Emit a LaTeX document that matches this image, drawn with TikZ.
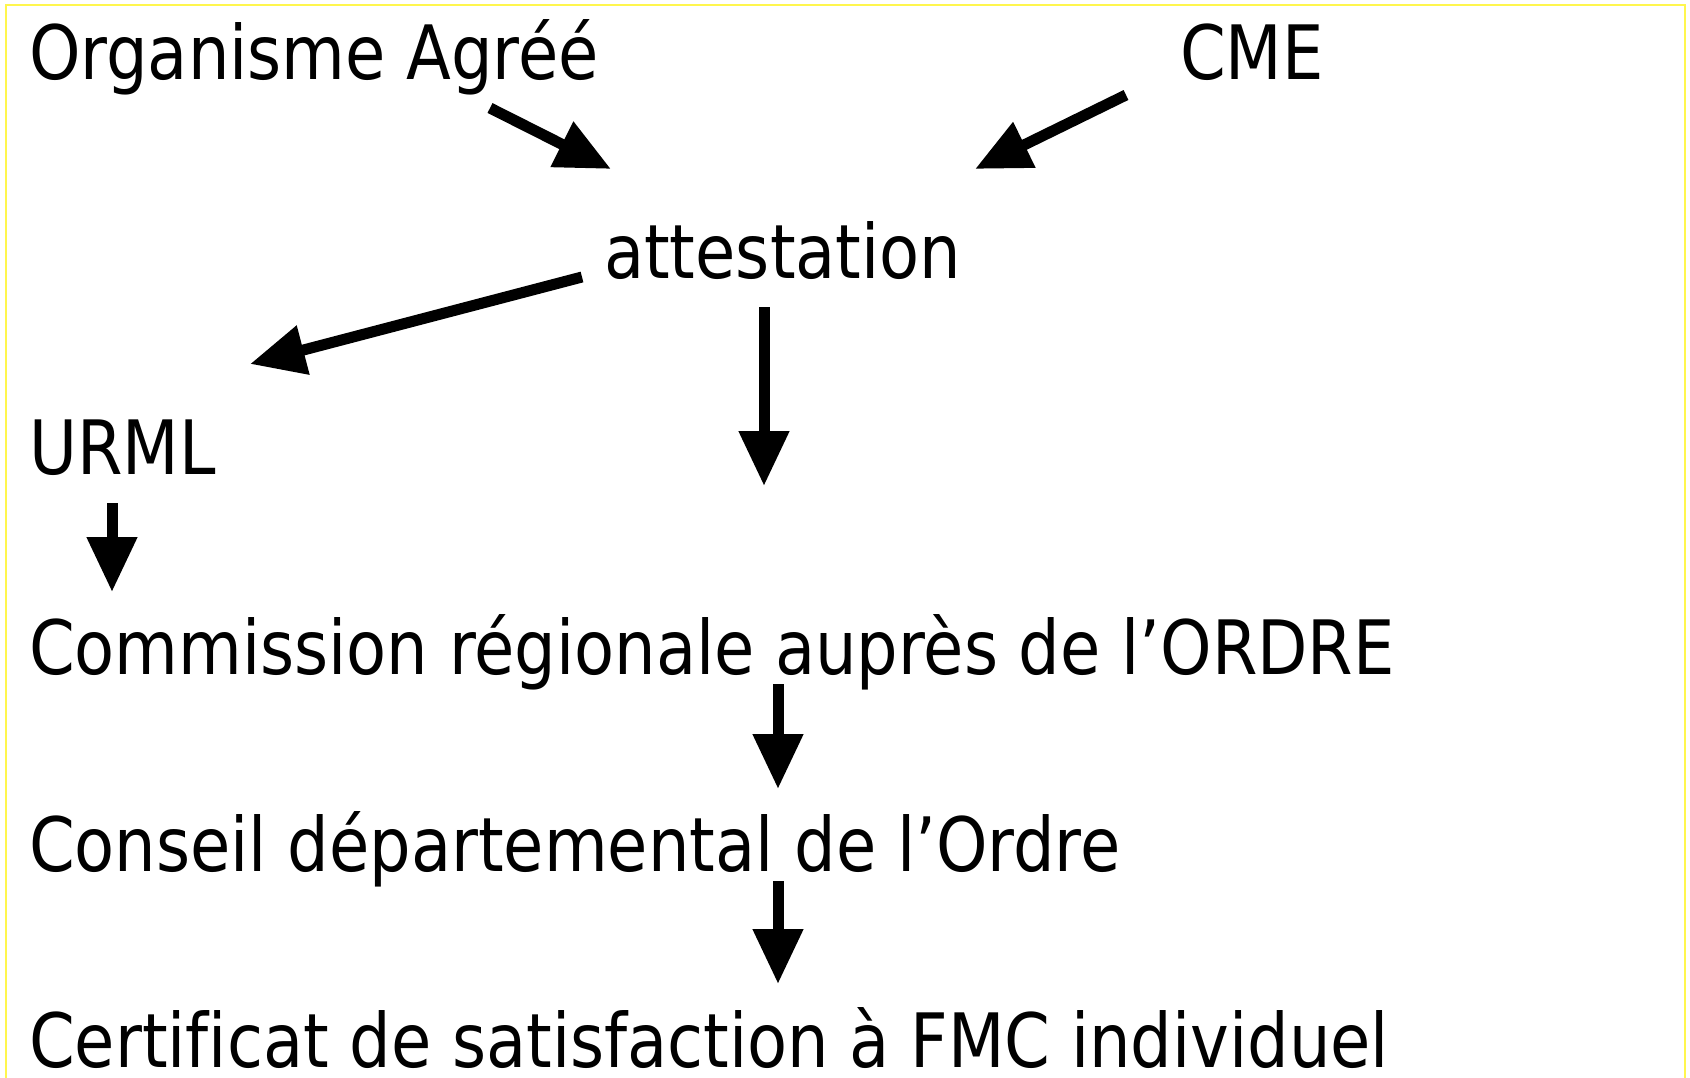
\documentclass[tikz,border=0pt]{standalone}
\usepackage{fontspec}
\setmainfont[FakeStretch=0.97, Ligatures=NoCommon]{DejaVu Sans Condensed}
\usetikzlibrary{arrows.meta}

\begin{document}
\begin{tikzpicture}[x=1pt, y=-1pt,
    lab/.style={anchor=base west, inner sep=0pt, font=\fontsize{75}{80}\selectfont},
    fleche/.style={line width=11pt, -{Triangle[length=55pt, width=48pt]}}]

  \path[use as bounding box] (0,0) rectangle (1690,1077);

  % ── cadre jaune ──
  \draw[yellow!70, line width=2pt] (6,5) rectangle (1685,1085);

  % ── textes (ligne de base, bord gauche) ──
  \node[lab] (orga)   at (29,79)    {Organisme Agréé};
  \node[lab] (cme)    at (1180,79)  {CME};
  \node[lab] (attest) at (604,278)  {attestation};
  \node[lab] (urml)   at (29,474)   {URML};
  \node[lab] (comm)   at (29,674)   {Commission régionale auprès de l’ORDRE};
  \node[lab] (cons)   at (29,871)   {Conseil départemental de l’Ordre};
  \node[lab] (certif) at (29,1067)  {Certificat de satisfaction à FMC individuel};

  % ── bouts des flèches ──
  \coordinate (orga-s)   at (490,108);  \coordinate (orga-e)   at (611,169);
  \coordinate (cme-s)    at (1126,95);  \coordinate (cme-e)    at (975,169);
  \coordinate (att-s1)   at (582,277);  \coordinate (urml-e)   at (250,364);
  \coordinate (att-s2)   at (764,307);  \coordinate (att-e2)   at (764,486);
  \coordinate (urml-s)   at (112,503);  \coordinate (comm-e)   at (112,592);
  \coordinate (comm-s)   at (778,684);  \coordinate (cons-e)   at (778,789);
  \coordinate (cons-s)   at (778,881);  \coordinate (certif-e) at (778,984);

  \foreach \a/\b in {orga-s/orga-e, cme-s/cme-e, att-s1/urml-e, att-s2/att-e2,
                     urml-s/comm-e, comm-s/cons-e, cons-s/certif-e}
    \draw[fleche] (\a) -- (\b);
\end{tikzpicture}
\end{document}
